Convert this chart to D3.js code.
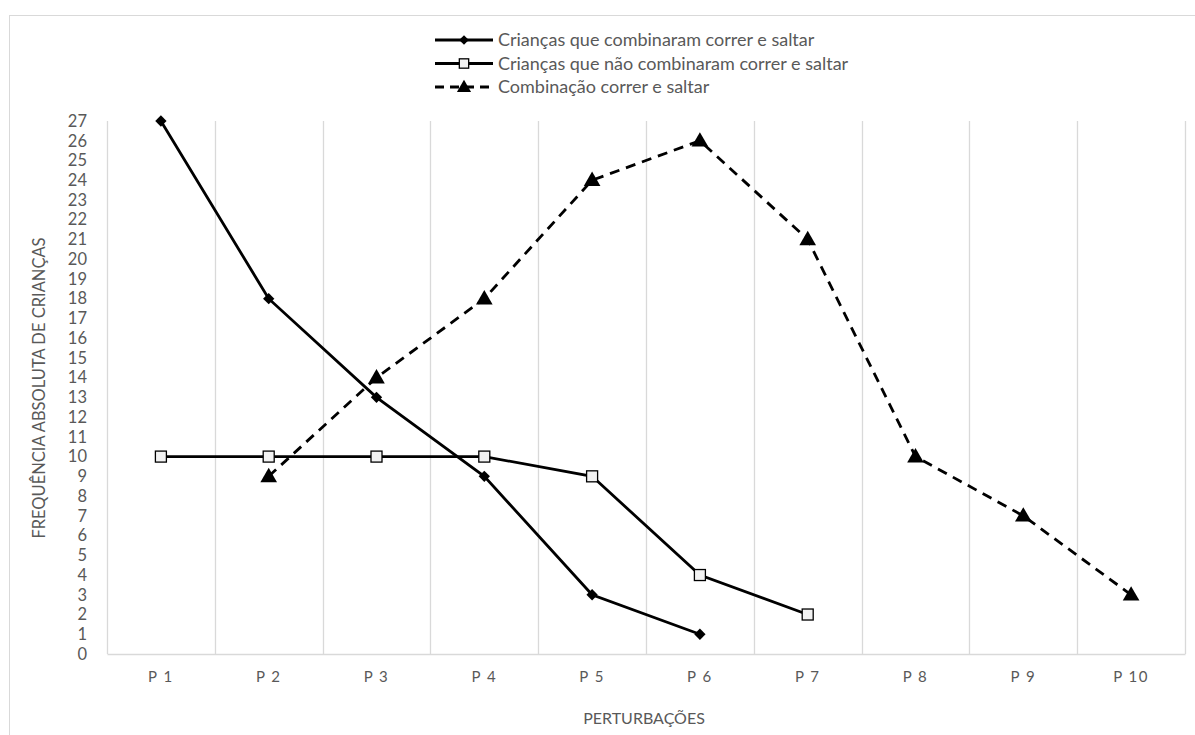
<!DOCTYPE html>
<html>
<head>
    <title>Perturbações</title>
    <script src="https://d3js.org/d3.v7.min.js"></script>
    <style>
        body { margin: 0; background: #fff; }
        svg text { font-family: Lato, "Open Sans", sans-serif; fill: #595959; }
    </style>
</head>
<body>
    <div id="chart"></div>

    <script>
        var categories = ["P 1", "P 2", "P 3", "P 4", "P 5", "P 6", "P 7", "P 8", "P 9", "P 10"];
        // null = no point for that perturbation
        var combinaram = [27, 18, 13, 9, 3, 1, null, null, null, null];
        var naoCombinaram = [10, 10, 10, 10, 9, 4, 2, null, null, null];
        var combinacao = [null, 9, 14, 18, 24, 26, 21, 10, 7, 3];
        var yTicks = d3.range(0, 28);
        var seriesNames = ["Crianças que combinaram correr e saltar",
                           "Crianças que não combinaram correr e saltar",
                           "Combinação correr e saltar"];

        var width = 1195, height = 735;
        var margin = {left: 107, right: 10, top: 121, bottom: 81};

        var svg = d3.select("#chart").append("svg")
            .attr("width", width).attr("height", height);

        // outer chart border (runs off the right and bottom edges)
        svg.append("rect")
            .attr("x", 9.5).attr("y", 15.5)
            .attr("width", 1200).attr("height", 800)
            .attr("fill", "none").attr("stroke", "#d9d9d9");

        var x = d3.scaleBand().domain(categories)
            .range([margin.left, width - margin.right]);
        var y = d3.scaleLinear().domain([0, 27])
            .range([height - margin.bottom, margin.top]);

        // vertical gridlines at category boundaries
        var bounds = categories.map(function(c) { return x(c); });
        bounds.push(x.range()[1]);
        svg.append("g").selectAll("line")
            .data(bounds)
            .enter().append("line")
            .attr("x1", function(d) { return Math.round(d) + 0.5; })
            .attr("x2", function(d) { return Math.round(d) + 0.5; })
            .attr("y1", y(27)).attr("y2", y(0))
            .attr("stroke", "#d9d9d9").attr("stroke-width", 1.3);

        // x axis
        var xAxis = svg.append("g")
            .attr("transform", "translate(0," + y(0) + ")")
            .call(d3.axisBottom(x).tickSize(0).tickPadding(17));
        xAxis.select(".domain").attr("stroke", "#d9d9d9").attr("stroke-width", 1.3);
        xAxis.selectAll("text").attr("font-size", 15).attr("letter-spacing", "1.5px");

        // y axis
        var yAxis = svg.append("g")
            .attr("transform", "translate(" + margin.left + ",0)")
            .call(d3.axisLeft(y).tickValues(yTicks).tickSize(0).tickPadding(20));
        yAxis.select(".domain").remove();
        yAxis.selectAll("text").attr("font-size", 16.5);

        // axis titles
        svg.append("text")
            .attr("x", 644).attr("y", 724)
            .attr("text-anchor", "middle").attr("font-size", 16)
            .text("PERTURBAÇÕES");
        svg.append("text")
            .attr("transform", "translate(45,388) rotate(-90)")
            .attr("text-anchor", "middle").attr("font-size", 16.5)
            .text("FREQUÊNCIA ABSOLUTA DE CRIANÇAS");

        function cx(i) { return x(categories[i]) + x.bandwidth() / 2; }

        var line = d3.line()
            .defined(function(d) { return d != null; })
            .x(function(d, i) { return cx(i); })
            .y(function(d) { return y(d); });

        var diamond = d3.symbol().type(d3.symbolSquare).size(64);
        var triangle = d3.symbol().type(d3.symbolTriangle).size(120);

        function drawSeries(values, dash, marker) {
            svg.append("path")
                .datum(values)
                .attr("fill", "none").attr("stroke", "#000")
                .attr("stroke-width", 2.8)
                .attr("stroke-dasharray", dash)
                .attr("d", line);
            var pts = values.map(function(v, i) { return {v: v, i: i}; })
                .filter(function(d) { return d.v != null; });
            var g = svg.append("g");
            pts.forEach(function(d) { marker(g, cx(d.i), y(d.v), 1); });
        }

        function drawDiamond(g, px, py, s) {
            g.append("path").attr("d", diamond)
                .attr("transform", "translate(" + px + "," + py + ") rotate(45) scale(" + s + ")")
                .attr("fill", "#000");
        }
        function drawSquare(g, px, py, s) {
            var h = 5.5 * s;
            g.append("rect")
                .attr("x", px - h).attr("y", py - h)
                .attr("width", 2 * h).attr("height", 2 * h)
                .attr("fill", "#f2f2f2").attr("stroke", "#000").attr("stroke-width", 1.3);
        }
        function drawTriangle(g, px, py, s) {
            g.append("path").attr("d", triangle)
                .attr("transform", "translate(" + px + "," + (py + 1) + ") scale(" + s + ")")
                .attr("fill", "#000");
        }

        drawSeries(combinacao, "10,7", drawTriangle);
        drawSeries(combinaram, null, drawDiamond);
        drawSeries(naoCombinaram, null, drawSquare);

        // legend
        var markers = [drawDiamond, drawSquare, drawTriangle];
        var dashes = [null, null, "9,6"];
        var legend = svg.append("g");
        seriesNames.forEach(function(name, i) {
            var ly = 40 + i * 23.5;
            legend.append("line")
                .attr("x1", 435).attr("x2", 493)
                .attr("y1", ly).attr("y2", ly)
                .attr("stroke", "#000").attr("stroke-width", 2.8)
                .attr("stroke-dasharray", dashes[i]);
            markers[i](legend, 464, ly, 0.85);
            legend.append("text")
                .attr("x", 498).attr("y", ly + 6)
                .attr("font-size", 18)
                .text(name);
        });
    </script>
</body>
</html>
